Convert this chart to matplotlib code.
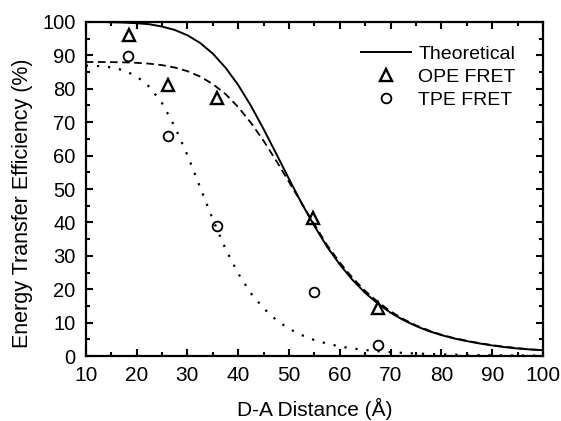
import matplotlib
matplotlib.use("Agg")
import matplotlib.pyplot as plt
from matplotlib.ticker import MultipleLocator

plt.rcParams.update({
    "font.family": ["Liberation Sans", "DejaVu Sans"],
    "xtick.direction": "in",
    "ytick.direction": "in",
    "xtick.top": True,
    "ytick.right": True,
    "axes.linewidth": 1.6,
})

# ------------------------------------------------------------
# Data
# ------------------------------------------------------------
dist = [10, 12.5, 15, 17.5, 20, 22.5, 25, 27.5, 30, 32.5, 35, 37.5, 40,
        42.5, 45, 47.5, 50, 52.5, 55, 57.5, 60, 62.5, 65, 67.5, 70, 72.5,
        75, 77.5, 80, 82.5, 85, 87.5, 90, 92.5, 95, 97.5, 100]

theory = [100.0, 100.0, 99.9, 99.8, 99.6, 99.3, 98.6, 97.6, 96.0, 93.7,
          90.5, 86.3, 81.1, 74.9, 67.9, 60.5, 53.0, 45.7, 38.9, 32.7, 27.4,
          22.8, 18.9, 15.7, 13.0, 10.8, 9.0, 7.5, 6.3, 5.3, 4.5, 3.8, 3.2,
          2.7, 2.3, 2.0, 1.8]

ope_fit = [88.0, 88.0, 87.96, 87.9, 87.75, 87.5, 87.06, 86.35, 85.26, 83.65,
           81.4, 78.4, 74.5, 69.8, 64.4, 58.4, 52.1, 45.7, 39.4, 33.2, 28.0,
           23.4, 19.5, 16.2, 13.4, 11.1, 9.2, 7.7, 6.4, 5.4, 4.6, 3.9, 3.3,
           2.8, 2.4, 2.0, 1.8]

tpe_fit = [86.9, 86.8, 86.4, 85.5, 83.7, 80.6, 75.7, 68.7, 60.1, 50.5, 40.9,
           32.1, 24.7, 18.8, 14.3, 10.8, 8.2, 6.3, 4.8, 3.75, 2.9, 2.3, 1.84,
           1.47, 1.19, 0.97, 0.79, 0.65, 0.54, 0.45, 0.38, 0.32, 0.27, 0.23,
           0.20, 0.17, 0.15]

ope_x = [18.5, 26.1, 35.8, 54.8, 67.5]
ope_y = [96.0, 81.0, 77.2, 41.4, 14.5]

tpe_x = [18.3, 26.1, 35.8, 54.9, 67.5]
tpe_y = [89.8, 65.9, 39.0, 19.2, 3.2]

# ------------------------------------------------------------
# Plot
# ------------------------------------------------------------
fig = plt.figure(figsize=(5.61, 4.21), dpi=100)
ax = fig.add_axes([0.153, 0.154, 0.815, 0.794])

ax.plot(dist, theory, color="black", linewidth=1.4, label="Theoretical")
ax.plot(dist, ope_fit, color="black", linewidth=1.3,
        linestyle=(0, (4.2, 2.5)))
ax.plot(dist, tpe_fit, color="black", linewidth=1.6,
        linestyle=(0, (1, 4.0)))

ax.plot(ope_x, ope_y, linestyle="none", marker="^", markersize=9,
        markerfacecolor="none", markeredgecolor="black",
        markeredgewidth=1.7, label="OPE FRET")
ax.plot(tpe_x, tpe_y, linestyle="none", marker="o", markersize=7,
        markerfacecolor="none", markeredgecolor="black",
        markeredgewidth=1.3, label="TPE FRET")

ax.set_xlim(10, 100)
ax.set_ylim(0, 100)
ax.xaxis.set_major_locator(MultipleLocator(10))
ax.xaxis.set_minor_locator(MultipleLocator(5))
ax.yaxis.set_major_locator(MultipleLocator(10))
ax.yaxis.set_minor_locator(MultipleLocator(5))
ax.tick_params(which="major", length=5, width=1.5)
ax.tick_params(which="minor", length=3, width=1.5)
ax.tick_params(axis="x", which="major", labelsize=15, pad=7)
ax.tick_params(axis="y", which="major", labelsize=14.5, pad=7.5)

ax.set_xlabel("D-A Distance (Å)", fontsize=15)
ax.set_ylabel("Energy Transfer Efficiency (%)", fontsize=15.5)
ax.xaxis.set_label_coords(0.5, -0.124)
ax.yaxis.set_label_coords(-0.115, 0.458)

ax.legend(loc="upper right", frameon=False, fontsize=14, numpoints=1,
          handlelength=2.6, handletextpad=0.35, labelspacing=0.28,
          borderpad=0, borderaxespad=0, bbox_to_anchor=(0.94, 0.93))

fig.savefig("out.png", dpi=100)
